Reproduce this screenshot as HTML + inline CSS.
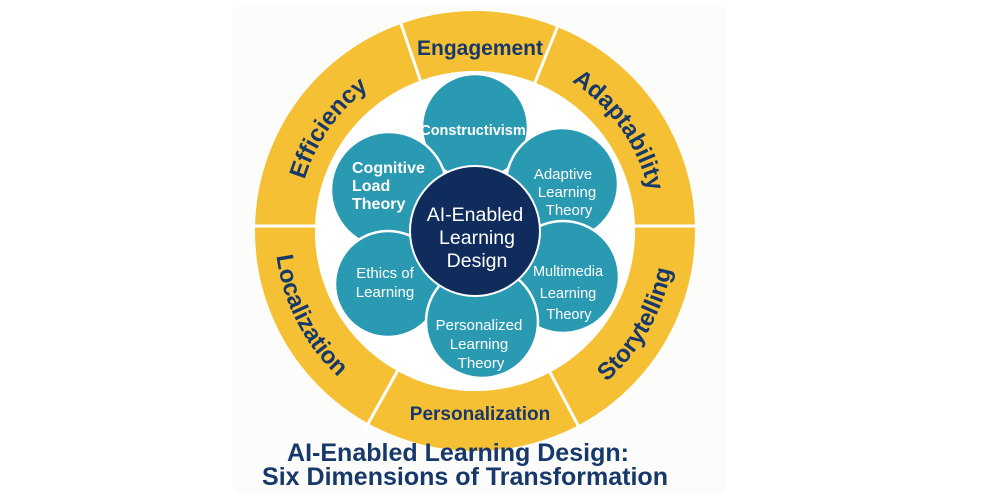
<!DOCTYPE html>
<html><head><meta charset="utf-8"><style>
html,body{margin:0;padding:0;background:#fff;}
svg{display:block;}
</style></head><body>
<svg width="1000" height="500" viewBox="0 0 1000 500" xmlns="http://www.w3.org/2000/svg">
<rect x="232" y="4" width="494" height="490" rx="10" fill="#fcfcfb"/>
<defs>
<path id="pEff" d="M297.7,246.5 A178,178 0 0 1 428.9,59.1"/>
<path id="pAda" d="M521.1,59.1 A178,178 0 0 1 652.3,246.5"/>
<path id="pLoc" d="M281.8,179.2 A200,200 0 0 0 403.4,417.8"/>
<path id="pSto" d="M543.4,419 A200,200 0 0 0 672,196.3"/>
</defs>
<circle cx="475" cy="231" r="190" fill="none" stroke="#f5c033" stroke-width="60"/>
<circle cx="475" cy="231" r="160" fill="#fff"/>
<g stroke="#fff" stroke-width="3">
<line x1="422" y1="85.3" x2="398" y2="15"/>
<line x1="533.1" y1="87.3" x2="561" y2="18"/>
<line x1="630" y1="226" x2="705" y2="226"/>
<line x1="547.7" y1="367.9" x2="582" y2="433"/>
<line x1="399.9" y1="366.6" x2="364" y2="431"/>
<line x1="320" y1="226" x2="245" y2="226"/>
</g>
<g font-family="Liberation Sans, sans-serif" font-weight="bold" fill="#17386a">
<text x="480" y="55" font-size="21" text-anchor="middle">Engagement</text>
<text x="480" y="420" font-size="19" text-anchor="middle">Personalization</text>
<text font-size="24"><textPath href="#pEff" startOffset="50%" text-anchor="middle">Efficiency</textPath></text>
<text font-size="24"><textPath href="#pAda" startOffset="50%" text-anchor="middle">Adaptability</textPath></text>
<text font-size="24"><textPath href="#pLoc" startOffset="50%" text-anchor="middle">Localization</textPath></text>
<text font-size="24"><textPath href="#pSto" startOffset="50%" text-anchor="middle">Storytelling</textPath></text>
</g>
<g fill="#2a9ab3" stroke="#fff" stroke-width="2.5">
<circle cx="475" cy="127" r="53"/>
<circle cx="389" cy="190" r="58"/>
<circle cx="562" cy="184" r="56"/>
<circle cx="388" cy="284" r="53"/>
<circle cx="563" cy="277" r="56"/>
<circle cx="482" cy="322" r="56"/>
</g>
<circle cx="475" cy="231" r="65" fill="#0f2c5c" stroke="#fff" stroke-width="2"/>
<g font-family="Liberation Sans, sans-serif" fill="#fff" font-size="15">
<text x="473" y="135" text-anchor="middle" font-weight="bold" font-size="14.5">Constructivism</text>
<text x="352" y="173" font-weight="bold" font-size="16">Cognitive</text>
<text x="352" y="191" font-weight="bold" font-size="16">Load</text>
<text x="352" y="209" font-weight="bold" font-size="16">Theory</text>
<text x="563" y="179" text-anchor="middle">Adaptive</text>
<text x="567" y="197" text-anchor="middle">Learning</text>
<text x="569" y="215" text-anchor="middle">Theory</text>
<text x="385" y="278" text-anchor="middle">Ethics of</text>
<text x="385" y="297" text-anchor="middle">Learning</text>
<text x="568" y="276" text-anchor="middle" font-size="14.5">Multimedia</text>
<text x="568" y="298" text-anchor="middle" font-size="14.5">Learning</text>
<text x="569" y="319" text-anchor="middle" font-size="14.5">Theory</text>
<text x="479" y="330" text-anchor="middle">Personalized</text>
<text x="479" y="349" text-anchor="middle">Learning</text>
<text x="481" y="368" text-anchor="middle">Theory</text>
<text x="475" y="221" text-anchor="middle" font-size="19.5">AI-Enabled</text>
<text x="477" y="244" text-anchor="middle" font-size="19.5">Learning</text>
<text x="477" y="267" text-anchor="middle" font-size="19.5">Design</text>
</g>
<g font-family="Liberation Sans, sans-serif" font-weight="bold" fill="#17386a" font-size="25">
<text x="287" y="461" textLength="342" lengthAdjust="spacingAndGlyphs">AI-Enabled Learning Design:</text>
<text x="262" y="485" textLength="406" lengthAdjust="spacingAndGlyphs">Six Dimensions of Transformation</text>
</g>
</svg>
</body></html>
